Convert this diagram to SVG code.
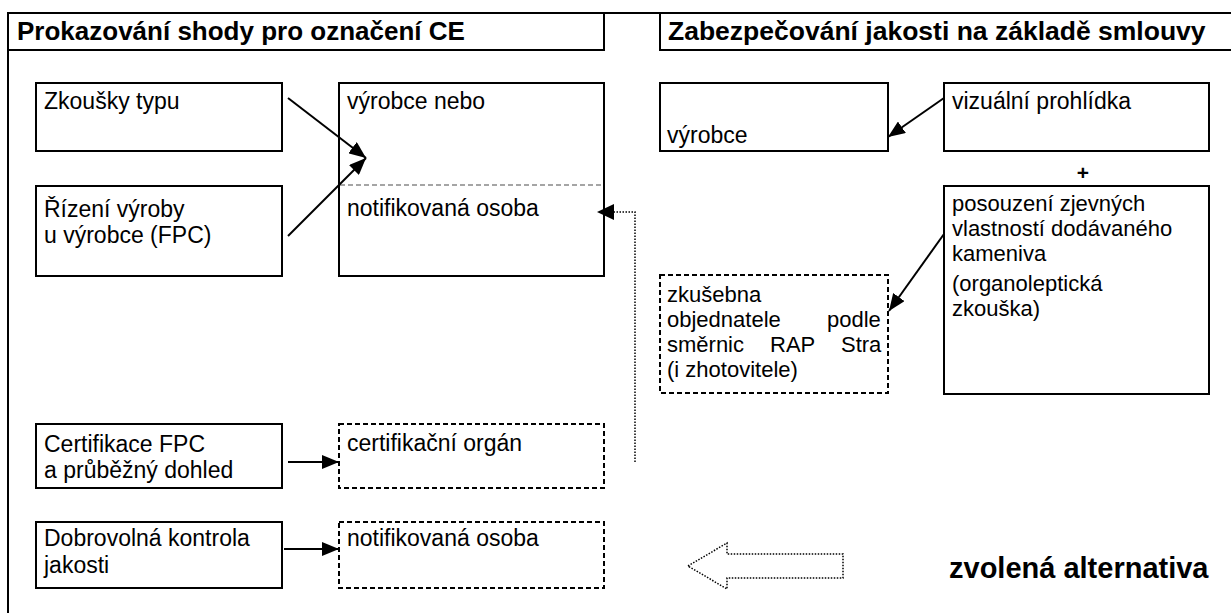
<svg xmlns="http://www.w3.org/2000/svg" width="1231" height="615" viewBox="0 0 1231 615">
<defs>
<style>
.t{font-family:"Liberation Sans",Arial,sans-serif;font-size:23px;fill:#000}
.s{font-size:22px}
.h{font-family:"Liberation Sans",Arial,sans-serif;font-size:26px;font-weight:bold;fill:#000}
.box{fill:#fff;stroke:#000;stroke-width:2}
.dbox{fill:#fff;stroke:#000;stroke-width:2;stroke-dasharray:5 3}
.ln{stroke:#000;stroke-width:2;fill:none}
.dot{stroke:#000;stroke-width:1.5;fill:none;stroke-dasharray:1.5 1.5}
</style>
<marker id="ahb" viewBox="0 0 10 10" refX="10" refY="5" markerWidth="17" markerHeight="14" markerUnits="userSpaceOnUse" orient="auto" preserveAspectRatio="none">
<path d="M0,0 L10,5 L0,10 z" fill="#000"/>
</marker>
</defs>

<g id="frame">
<path class="ln" d="M8,613 V13 H1231"/>
</g>

<g id="title-left">
<rect class="box" x="8" y="13" width="596" height="37"/>
<text class="h" x="17" y="40">Prokazování shody pro označení CE</text>
</g>
<g id="title-right">
<rect class="box" x="660" y="13" width="580" height="37"/>
<text class="h" x="668" y="40" style="font-size:26.5px">Zabezpečování jakosti na základě smlouvy</text>
</g>

<g id="n-zkousky">
<rect class="box" x="36" y="83" width="246" height="68"/>
<text class="t" x="44" y="109">Zkoušky typu</text>
</g>
<g id="n-rizeni">
<rect class="box" x="36" y="186" width="246" height="90"/>
<text class="t"><tspan x="44" y="217">Řízení výroby</tspan><tspan x="44" y="243">u výrobce (FPC)</tspan></text>
</g>
<g id="n-vyrobce-nebo">
<rect class="box" x="339" y="83" width="265" height="193"/>
<line x1="340" y1="185" x2="603" y2="185" stroke="#888" stroke-width="1.5" stroke-dasharray="5 3"/>
<text class="t"><tspan x="347" y="109">výrobce nebo</tspan><tspan x="347" y="216">notifikovaná osoba</tspan></text>
</g>

<g id="n-vyrobce">
<rect class="box" x="660" y="83" width="228" height="68"/>
<text class="t" x="667" y="143">výrobce</text>
</g>
<g id="n-vizualni">
<rect class="box" x="944" y="83" width="265" height="68"/>
<text class="t" x="952" y="109">vizuální prohlídka</text>
</g>
<g id="plus">
<text class="h" x="1083" y="180" text-anchor="middle" style="font-size:21px">+</text>
</g>
<g id="n-posouzeni">
<rect class="box" x="944" y="186" width="265" height="208"/>
<text class="t s"><tspan x="952" y="211">posouzení zjevných</tspan><tspan x="952" y="236">vlastností dodávaného</tspan><tspan x="952" y="261">kameniva</tspan><tspan x="952" y="291">(organoleptická</tspan><tspan x="952" y="316">zkouška)</tspan></text>
</g>
<g id="n-zkusebna">
<rect class="dbox" x="660" y="275" width="228" height="118"/>
<text class="t s"><tspan x="667" y="302">zkušebna</tspan><tspan x="667" y="327">objednatele</tspan><tspan x="827" y="327">podle</tspan><tspan x="667" y="352">směrnic</tspan><tspan x="770" y="352">RAP</tspan><tspan x="841" y="352">Stra</tspan><tspan x="667" y="377">(i zhotovitele)</tspan></text>
</g>

<g id="n-certifikace">
<rect class="box" x="36" y="424" width="246" height="64"/>
<text class="t"><tspan x="44" y="452">Certifikace FPC</tspan><tspan x="44" y="478">a průběžný dohled</tspan></text>
</g>
<g id="n-cert-organ">
<rect class="dbox" x="339" y="424" width="265" height="64"/>
<text class="t" x="347" y="451">certifikační orgán</text>
</g>
<g id="n-dobrovolna">
<rect class="box" x="36" y="522" width="246" height="66"/>
<text class="t"><tspan x="44" y="546">Dobrovolná kontrola</tspan><tspan x="44" y="573">jakosti</tspan></text>
</g>
<g id="n-notif2">
<rect class="dbox" x="339" y="522" width="265" height="66"/>
<text class="t" x="347" y="546">notifikovaná osoba</text>
</g>

<g id="legend">
<path d="M688,566 L727,543 L727,554 L843,554 L843,578 L727,578 L727,589 Z" fill="none" stroke="#000" stroke-width="1.5" stroke-dasharray="1.5 1.5"/>
<text class="h" x="949" y="578" style="font-size:29px">zvolená alternativa</text>
</g>

<g id="connectors">
<line class="ln" x1="288" y1="98" x2="366" y2="158" marker-end="url(#ahb)"/>
<line class="ln" x1="288" y1="236" x2="366" y2="158" marker-end="url(#ahb)"/>
<line class="ln" x1="944" y1="98" x2="888" y2="137" marker-end="url(#ahb)"/>
<line class="ln" x1="944" y1="234" x2="889" y2="311" marker-end="url(#ahb)"/>
<path class="dot" d="M635,462 V212 H612"/>
<path d="M597,212 L614,204 L614,220 Z" fill="#000"/>
<line class="ln" x1="288" y1="462" x2="339" y2="462" marker-end="url(#ahb)"/>
<line class="ln" x1="284" y1="549" x2="339" y2="549" marker-end="url(#ahb)"/>
</g>
</svg>
